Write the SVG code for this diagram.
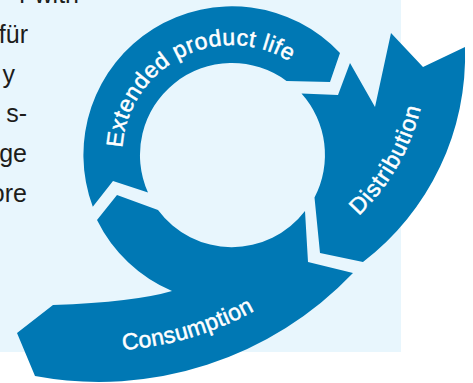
<svg xmlns="http://www.w3.org/2000/svg" xmlns:xlink="http://www.w3.org/1999/xlink" width="473" height="383" viewBox="0 0 473 383">
  <style>
    .seg { fill: #0078b4; }
    .lbl { fill: #ffffff; stroke: #ffffff; stroke-width: 0.5; font-family: "Liberation Sans", Arial, sans-serif; font-size: 23px; }
    .body { fill: #1d1d1b; font-family: "Liberation Sans", Arial, sans-serif; font-size: 25px; text-anchor: end; }
  </style>
  <defs>
    <path id="p-ext" d="M126.9,187.5 A110,110 0 0 1 319.6,88.5"/>
    <path id="p-dist" d="M316.7,247.4 A222,222 0 0 0 427,54.7"/>
    <path id="p-cons" d="M25.3,342 A320,320 0 0 0 332,250.6"/>
  </defs>
  <rect x="0" y="0" width="473" height="383" fill="#ffffff"/>
  <rect id="panel" x="0" y="0" width="401" height="352" fill="#e8f6fd"/>

  <g id="body-text" class="body">
    <text x="79" y="3">r with</text>
    <text x="28" y="43">für</text>
    <text x="15" y="82.5">y</text>
    <text x="27" y="122">s-</text>
    <text x="27" y="162">ge</text>
    <text x="27" y="202">ore</text>
  </g>

  <g id="extended">
    <path class="seg" d="M148,192.6 A92,92 0 0 1 286.5,80.9 L330,82 L340,53 A148.5,148.5 0 0 0 92.8,206.8 L113,181 Z"/>
    <text class="lbl" letter-spacing="0.5"><textPath xlink:href="#p-ext" href="#p-ext" startOffset="50%" text-anchor="middle">Extended product life</textPath></text>
  </g>

  <g id="distribution">
    <path class="seg" d="M301.5,93.5 L338,95 L350,63 L375,107 L391,33 L423,67 L465,47 A260,260 0 0 1 363,262 L320,253 L314.5,197.5 A92,92 0 0 0 301.5,93.5 Z"/>
    <text class="lbl" letter-spacing="1"><textPath xlink:href="#p-dist" href="#p-dist" startOffset="50%" text-anchor="middle">Distribution</textPath></text>
  </g>

  <g id="consumption">
    <path class="seg" d="M117,195 L158,210 A92,92 0 0 0 305,211 L308,262 L353,273 A350.7,350.7 0 0 1 35,376 L17,333 L53,305 Q135,302 172,291 A148.5,148.5 0 0 1 97,220 Z"/>
    <text class="lbl" letter-spacing="0.3"><textPath xlink:href="#p-cons" href="#p-cons" startOffset="50%" text-anchor="middle">Consumption</textPath></text>
  </g>
</svg>
